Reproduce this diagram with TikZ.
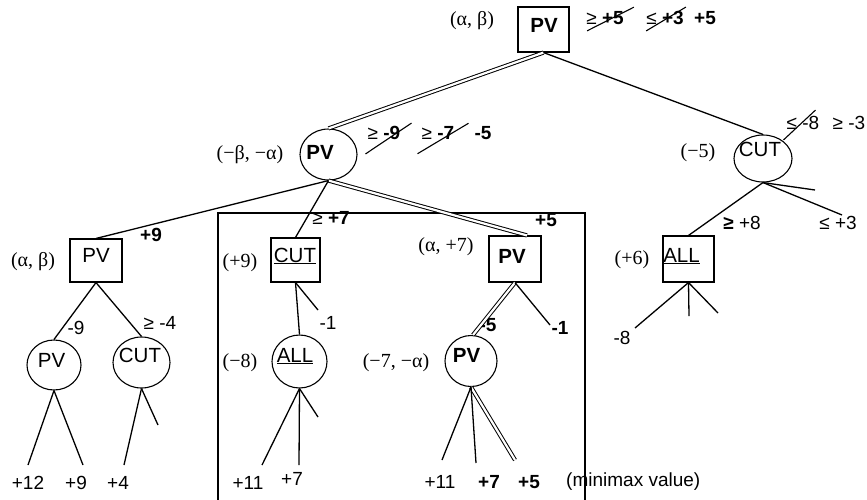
\documentclass[tikz,border=0pt]{standalone}
\usepackage{fontspec}
\setmainfont{Liberation Sans}
\newfontfamily\tms{Liberation Serif}
\usetikzlibrary{shapes.geometric,calc}
\begin{document}
\begin{tikzpicture}[x=1pt,y=-1pt,
  lab/.style={font=\fontsize{19}{22}\selectfont, inner sep=0pt},
  inlab/.style={font=\fontsize{20.5}{24}\selectfont, inner sep=0pt},
  glab/.style={font=\tms\fontsize{20}{24}\selectfont, inner sep=0pt},
  boxn/.style={draw, line width=1.1pt, rectangle, inner sep=0pt},
  circn/.style={draw, line width=1.1pt, ellipse, inner sep=0pt},
  edge/.style={line width=1.3pt},
  dbl/.style={double, line width=1pt, double distance=2.2pt},
  strike/.style={line width=1.1pt},
  frame/.style={line width=2.5pt}
]
\useasboundingbox (0,0) rectangle (867,499);

% frame
\draw[frame] (218,510) -- (218,213) -- (585,213) -- (585,510);

% shapes
\node[boxn, minimum width=51pt, minimum height=45pt] (pvTop) at (543.5,29.5) {};
\node[circn, minimum width=57pt, minimum height=51pt] (pvL) at (328.5,154.5) {};
\node[circn, minimum width=58pt, minimum height=47pt] (cutR) at (763,158.5) {};
\node[boxn, minimum width=52pt, minimum height=43pt] (pvLL) at (96,260.5) {};
\node[boxn, minimum width=49pt, minimum height=44pt] (cutBox) at (295.5,260) {};
\node[boxn, minimum width=52pt, minimum height=46pt] (pvBox) at (515,259) {};
\node[boxn, minimum width=51pt, minimum height=46pt] (allBox) at (688.5,259) {};
\node[circn, minimum width=54pt, minimum height=50pt] (pvC) at (54,365) {};
\node[circn, minimum width=57pt, minimum height=51pt] (cutC) at (141.5,362.5) {};
\node[circn, minimum width=55pt, minimum height=53pt] (allC) at (299.5,361.5) {};
\node[circn, minimum width=52pt, minimum height=51pt] (pvD) at (471,361) {};

% texts inside shapes
\node[inlab] (tpvTop) at (544,25.5) {\textbf{PV}};
\node[inlab] (tpvL) at (320,152) {\textbf{PV}};
\node[inlab] (tcutR) at (760,149) {CUT};
\node[inlab] (tpvLL) at (96,255.5) {PV};
\node[inlab,anchor=base] (tcutBox) at (295,262) {\underline{CUT}};
\node[inlab] (tpvBox) at (512,256.5) {\textbf{PV}};
\node[inlab,anchor=base] (tallBox) at (681.5,262) {\underline{ALL}};
\node[inlab] (tpvC) at (51.5,360) {PV};
\node[inlab] (tcutC) at (140,355.5) {CUT};
\node[inlab,anchor=base] (tallC) at (295,362) {\underline{ALL}};
\node[inlab] (tpvD) at (466.5,355) {\textbf{PV}};

% window labels
\node[glab] (a1) at (472,21) {(α, β)};
\node[glab] (a2) at (250,155) {(−β, −α)};
\node[glab] (a3) at (33,262) {(α, β)};
\node[glab] (a4) at (240,263) {(+9)};
\node[glab] (a5) at (446,247) {(α, +7)};
\node[glab] (a6) at (240,363) {(−8)};
\node[glab] (a7) at (396,363) {(−7, −α)};
\node[glab] (a8) at (698,153) {(−5)};
\node[glab] (a9) at (632,260) {(+6)};

% value labels
\node[lab] (v1) at (605,18) {≥ \textbf{+5}};
\node[lab] (v2) at (665,18) {≤ \textbf{+3}};
\node[lab] (v3) at (705,18) {\textbf{+5}};
\node[lab] (w1) at (384,133) {≥ \textbf{-9}};
\node[lab] (w2) at (438,133) {≥ \textbf{-7}};
\node[lab] (w3) at (483,133) {\textbf{-5}};
\node[lab] (r1) at (803,123) {≤ -8};
\node[lab] (r2) at (849,123) {≥ -3};
\node[lab] (b1) at (151,235) {\textbf{+9}};
\node[lab] (b2) at (76,328) {-9};
\node[lab] (b3) at (160,323) {≥ -4};
\node[lab] (b4) at (331,218) {≥ \textbf{+7}};
\node[lab] (b5) at (546,220) {\textbf{+5}};
\node[lab] (b6) at (328,323) {-1};
\node[lab] (b7) at (488,325) {\textbf{-5}};
\node[lab] (b8) at (560,328) {\textbf{-1}};
\node[lab] (b9) at (742,223) {\textbf{≥} +8};
\node[lab] (b10) at (838,223) {≤ +3};
\node[lab] (b11) at (622,338) {-8};

% leaf labels
\node[lab] (l1) at (28,483) {+12};
\node[lab] (l2) at (76,483) {+9};
\node[lab] (l3) at (118,483) {+4};
\node[lab] (l4) at (248,483) {+11};
\node[lab] (l5) at (292,479) {+7};
\node[lab] (l6) at (440,482) {+11};
\node[lab] (l7) at (489,482) {\textbf{+7}};
\node[lab] (l8) at (529,482) {\textbf{+5}};
\node[lab,anchor=west] (mm) at (566,482) {(minimax value)};

% leaf coordinates
\coordinate (e1) at (28,465);
\coordinate (e2) at (83,465);
\coordinate (e3) at (124,465);
\coordinate (e4) at (158,425);
\coordinate (e5) at (262,465);
\coordinate (e6) at (299,465);
\coordinate (e7) at (318,417);
\coordinate (e8) at (318,310);
\coordinate (e9) at (442,460);
\coordinate (e10) at (476,463);
\coordinate (e11) at (515,460);
\coordinate (e12) at (550,325);
\coordinate (e13) at (815,190);
\coordinate (e14) at (842,215);
\coordinate (e15) at (635,328);
\coordinate (e16) at (689,316);
\coordinate (e17) at (718,313);

% double (principal variation) edges
\draw[dbl] (pvTop.south) -- (pvL.north);
\draw[dbl] (pvL.south) -- ($(pvBox.north)+(12,0)$);
\draw[dbl] (pvBox.south) -- ($(pvD.north)+(2,0)$);
\draw[dbl] (pvD.south) -- (e11);

% single edges
\draw[edge] (pvTop.south) -- (cutR.north);
\draw[edge] (pvL.south) -- (pvLL.north);
\draw[edge] (pvL.south) -- (cutBox.north);
\draw[edge] (pvLL.south) -- (pvC.north);
\draw[edge] (pvLL.south) -- (cutC.north);
\draw[edge] (pvC.south) -- (e1);
\draw[edge] (pvC.south) -- (e2);
\draw[edge] (cutC.south) -- (e3);
\draw[edge] (cutC.south) -- (e4);
\draw[edge] (cutBox.south) -- (allC.north);
\draw[edge] (cutBox.south) -- (e8);
\draw[edge] (allC.south) -- (e5);
\draw[edge] (allC.south) -- (e6);
\draw[edge] (allC.south) -- (e7);
\draw[edge] (pvBox.south) -- (e12);
\draw[edge] (pvD.south) -- (e9);
\draw[edge] (pvD.south) -- (e10);
\draw[edge] (cutR.south) -- (allBox.north);
\draw[edge] (cutR.south) -- (e13);
\draw[edge] (cutR.south) -- (e14);
\draw[edge] (allBox.south) -- (e15);
\draw[edge] (allBox.south) -- (e16);
\draw[edge] (allBox.south) -- (e17);

% strike-outs
\draw[strike] ($(v1.south west)+(1,6)$) -- ($(v1.north east)+(10,-4)$);
\draw[strike] ($(v2.south west)+(0,6)$) -- ($(v2.north east)+(2,-4)$);
\draw[strike] ($(w1.south west)+(-2,14)$) -- ($(w1.north east)+(11,-3)$);
\draw[strike] ($(w2.south west)+(-4,14)$) -- ($(w2.north east)+(14,-3)$);
\draw[strike] ($(r1.south west)+(-3,10)$) -- ($(r1.north east)+(-4,-6)$);
\end{tikzpicture}
\end{document}
